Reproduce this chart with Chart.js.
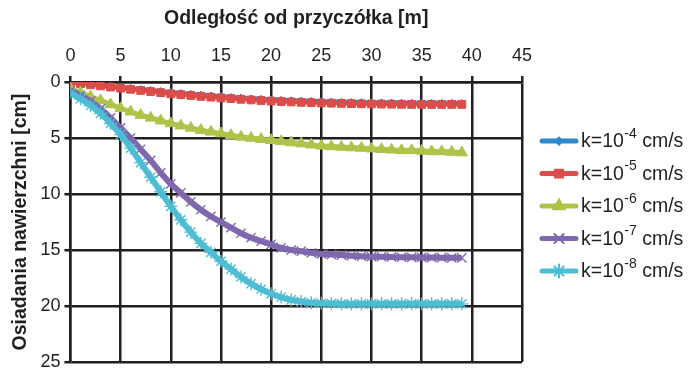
<!DOCTYPE html>
<html>
<head>
<meta charset="utf-8">
<script src="https://cdn.jsdelivr.net/npm/chart.js@4/dist/chart.umd.min.js"></script>
<style>
  body { margin: 0; background: #fff; }
  #wrap { width: 691px; height: 370px; }
</style>
</head>
<body>
<div id="wrap"><canvas id="chart" width="691" height="370"></canvas></div>
<script>
// distance from abutment [m]
const distances = [0,1,2,3,4,5,6,7,8,9,10,11,12,13,14,15,16,17,18,19,
                   20,21,22,23,24,25,26,27,28,29,30,31,32,33,34,35,36,37,38,39];

// settlement [cm] for each permeability
const k4 = [0,0.08,0.17,0.26,0.35,0.44,0.53,0.62,0.71,0.8,0.9,0.98,1.05,1.13,1.2,1.27,1.33,1.39,1.45,1.5,
            1.55,1.59,1.63,1.66,1.69,1.72,1.74,1.76,1.78,1.8,1.81,1.82,1.83,1.84,1.85,1.85,1.86,1.86,1.86,1.87];
const k5 = [0.05,0.15,0.25,0.35,0.45,0.55,0.65,0.75,0.85,0.95,1.05,1.13,1.2,1.28,1.35,1.42,1.48,1.54,1.6,1.65,
            1.7,1.74,1.78,1.81,1.84,1.87,1.89,1.91,1.93,1.95,1.96,1.97,1.98,1.99,2.0,2.0,2.0,2.0,2.0,2.0];
const k6 = [0.6,0.95,1.3,1.65,2.0,2.35,2.65,2.95,3.2,3.45,3.7,3.9,4.1,4.3,4.45,4.6,4.75,4.9,5.0,5.1,
            5.2,5.3,5.4,5.5,5.6,5.7,5.75,5.8,5.85,5.9,5.95,6.0,6.05,6.1,6.1,6.15,6.2,6.2,6.25,6.3];
const k7 = [0.8,1.2,1.7,2.4,3.2,4.1,5.0,6.0,7.0,8.1,9.1,9.9,10.7,11.4,12.0,12.5,13.0,13.5,13.9,14.2,
            14.5,14.8,15.0,15.1,15.25,15.35,15.4,15.45,15.5,15.55,15.6,15.6,15.62,15.64,15.65,15.66,15.67,15.68,15.69,15.7];
const k8 = [1.0,1.5,2.1,2.8,3.7,4.7,5.9,7.2,8.5,9.8,11.1,12.3,13.4,14.4,15.2,16.0,16.7,17.4,18.0,18.5,
            18.9,19.2,19.45,19.6,19.7,19.75,19.78,19.8,19.8,19.8,19.8,19.8,19.8,19.8,19.8,19.8,19.8,19.8,19.8,19.8];

// legend text: "k=10" + superscript exponent + " cm/s"
const exponents = ['-4', '-5', '-6', '-7', '-8'];
const seriesNames = exponents.map(e => 'k=10' + e + ' cm/s');
const xTicks = [0, 5, 10, 15, 20, 25, 30, 35, 40, 45];
const yTicks = [0, 5, 10, 15, 20, 25];

const colors = ['#2B8ACB', '#DC4C49', '#AEC34A', '#7F68AE', '#4DBDD3'];
const styles = ['rectRot', 'rect', 'triangle', 'crossRot', 'star'];
const radii = [3.5, 5.5, 6.5, 6.5, 6.5];
const widths = [4, 4, 5, 6, 6];
const ink = '#231f20';
const fontFam = '"Liberation Sans", Arial, sans-serif';

const toPoints = vals => vals.map((v, i) => ({ x: distances[i], y: v }));

const allSeries = [k4, k5, k6, k7, k8];
const datasets = allSeries.map((vals, i) => ({
  label: seriesNames[i],
  data: toPoints(vals),
  borderColor: colors[i],
  backgroundColor: colors[i],
  borderWidth: widths[i],
  pointStyle: styles[i],
  pointRadius: radii[i],
  pointBorderWidth: (styles[i] === 'crossRot' || styles[i] === 'star') ? 1.4 : 1,
  pointBorderColor: colors[i],
  pointBackgroundColor: colors[i],
  tension: 0.3,
  order: 5 - i
}));

// legend drawn by hand so the exponent can be a real superscript
const superLegend = {
  id: 'superLegend',
  afterDraw(chart) {
    const ctx = chart.ctx;
    const area = chart.chartArea;
    const step = 32.5;
    const mid = (area.top + area.bottom) / 2 - 16;
    const x0 = area.right + 18;
    ctx.save();
    chart.data.datasets.forEach((ds, i) => {
      const y = mid + (i - 2) * step;
      ctx.strokeStyle = colors[i];
      ctx.fillStyle = colors[i];
      ctx.lineWidth = 5;
      ctx.lineCap = 'round';
      ctx.beginPath(); ctx.moveTo(x0 + 2, y); ctx.lineTo(x0 + 36, y); ctx.stroke();
      ctx.lineWidth = 2;
      Chart.helpers.drawPoint(ctx, { pointStyle: styles[i], radius: radii[i], rotation: 0, borderWidth: 2 }, x0 + 19, y);
      ctx.fillStyle = ink;
      ctx.textBaseline = 'middle';
      ctx.font = '19.5px ' + fontFam;
      let tx = x0 + 41;
      ctx.fillText('k=10', tx, y + 1);
      tx += ctx.measureText('k=10').width + 0.5;
      ctx.font = '14px ' + fontFam;
      ctx.fillText(exponents[i], tx, y - 7);
      tx += ctx.measureText(exponents[i]).width;
      ctx.font = '19.5px ' + fontFam;
      ctx.fillText(' cm/s', tx, y + 1);
    });
    ctx.restore();
  }
};

Chart.defaults.font.family = fontFam;
Chart.defaults.color = ink;

new Chart(document.getElementById('chart'), {
  type: 'line',
  data: { datasets },
  plugins: [superLegend],
  options: {
    responsive: false,
    animation: false,
    layout: { padding: { left: 9, right: 169, top: 7, bottom: 2 } },
    plugins: {
      tooltip: { enabled: false },
      legend: { display: false }
    },
    scales: {
      x: {
        type: 'linear',
        position: 'top',
        min: 0, max: 45,
        afterBuildTicks: axis => { axis.ticks = xTicks.map(v => ({ value: v })); },
        ticks: { font: { size: 18 }, color: ink, padding: 9 },
        grid: { color: ink, lineWidth: 2.5, tickLength: 6 },
        border: { color: ink, width: 2.5 },
        title: { display: true, text: 'Odległość od przyczółka [m]', font: { size: 19.5, weight: 'bold' }, color: ink, padding: { top: 0, bottom: 6 } }
      },
      y: {
        type: 'linear',
        reverse: true,
        min: 0, max: 25,
        afterBuildTicks: axis => { axis.ticks = yTicks.map(v => ({ value: v })); },
        // let the bottom label run off the canvas edge, as in the original
        afterFit: axis => { axis.paddingBottom = 0; },
        ticks: { font: { size: 18 }, color: ink, padding: 4 },
        grid: { color: ink, lineWidth: 2.5, tickLength: 6 },
        border: { color: ink, width: 2.5 },
        title: { display: true, text: 'Osiadania nawierzchni [cm]', font: { size: 19.5, weight: 'bold' }, color: ink, padding: { top: 0, bottom: 4 } }
      }
    }
  }
});
</script>
</body>
</html>
